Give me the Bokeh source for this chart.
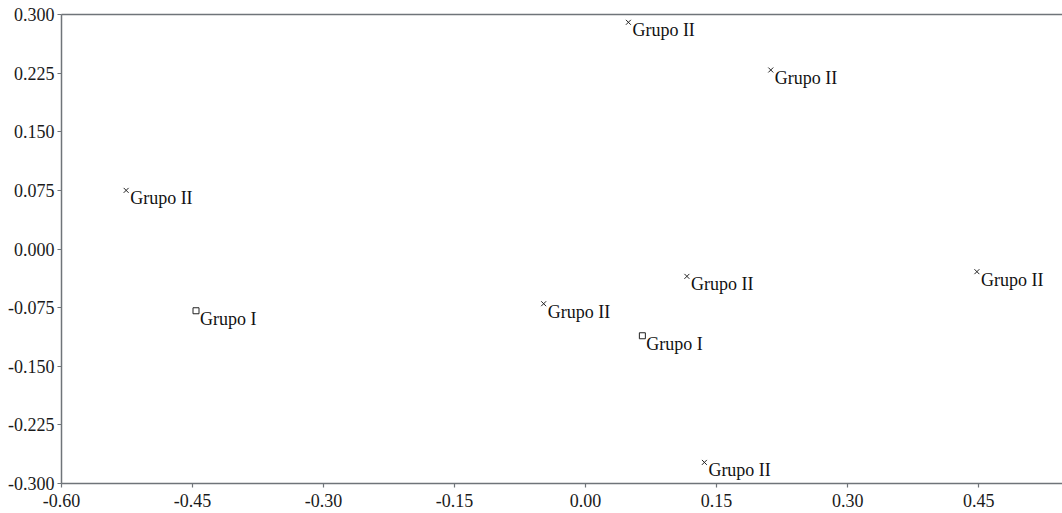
from bokeh.plotting import figure
from bokeh.models import ColumnDataSource, FixedTicker, LinearAxis, Range1d
from bokeh.core.properties import value
from bokeh.embed import file_html
from bokeh.resources import INLINE

# data
grupo1_x = [-0.446, 0.065]
grupo1_y = [-0.079, -0.111]
grupo1_label = ["Grupo I", "Grupo I"]

grupo2_x = [-0.526, -0.048, 0.049, 0.212, 0.116, 0.448, 0.136]
grupo2_y = [0.075, -0.070, 0.290, 0.229, -0.035, -0.029, -0.273]
grupo2_label = ["Grupo II"] * 7

x_ticks = [-0.60, -0.45, -0.30, -0.15, 0.00, 0.15, 0.30, 0.45]
x_tick_labels = ["-0.60", "-0.45", "-0.30", "-0.15", "0.00", "0.15", "0.30", "0.45"]
y_ticks = [-0.300, -0.225, -0.150, -0.075, 0.000, 0.075, 0.150, 0.225, 0.300]
y_tick_labels = ["-0.300", "-0.225", "-0.150", "-0.075", "0.000", "0.075", "0.150", "0.225", "0.300"]

FONT = "Liberation Serif"
AXIS_COLOR = "#6f7479"

p = figure(width=1062, height=513, output_backend="svg", toolbar_location=None,
           x_range=Range1d(-0.60, 0.546), y_range=Range1d(-0.300, 0.300),
           min_border_left=61, min_border_top=14, min_border_right=0, min_border_bottom=30,
           x_axis_location="below", y_axis_location="left")
p.grid.visible = False
p.outline_line_color = None
p.background_fill_color = "white"
p.border_fill_color = "white"

for ax, ticks, labels in ((p.xaxis[0], x_ticks, x_tick_labels), (p.yaxis[0], y_ticks, y_tick_labels)):
    ax.ticker = FixedTicker(ticks=ticks)
    ax.major_label_overrides = {t: l for t, l in zip(ticks, labels)}
    ax.axis_line_color = AXIS_COLOR
    ax.axis_line_width = 1.5
    ax.major_tick_line_color = AXIS_COLOR
    ax.major_tick_line_width = 1.2
    ax.major_tick_out = 4
    ax.major_tick_in = 0
    ax.minor_tick_out = 0
    ax.minor_tick_in = 0
    ax.major_label_text_font = FONT
    ax.major_label_text_font_size = "18px"
    ax.major_label_text_color = "#1a1a1a"
    ax.major_label_standoff = 3
p.xaxis[0].major_label_standoff = 6

top = LinearAxis(ticker=FixedTicker(ticks=[]), axis_line_color=AXIS_COLOR, axis_line_width=1.5,
                 major_tick_out=0, major_tick_in=0, minor_tick_out=0, minor_tick_in=0,
                 major_label_text_font_size="0px")
p.add_layout(top, "above")

s1 = ColumnDataSource(dict(x=grupo1_x, y=grupo1_y, label=grupo1_label))
s2 = ColumnDataSource(dict(x=grupo2_x, y=grupo2_y, label=grupo2_label))

p.scatter("x", "y", source=s1, marker="square", size=6, fill_color=None,
          line_color="#222222", line_width=1)
p.scatter("x", "y", source=s2, marker="x", size=7, line_color="#222222", line_width=1)

for src in (s1, s2):
    p.text("x", "y", text="label", source=src, x_offset=4, y_offset=-2,
           text_font=value(FONT), text_font_size="18px", text_color="#111111",
           text_align="left", text_baseline="top")

open("out.html", "w").write(file_html(p, INLINE))
